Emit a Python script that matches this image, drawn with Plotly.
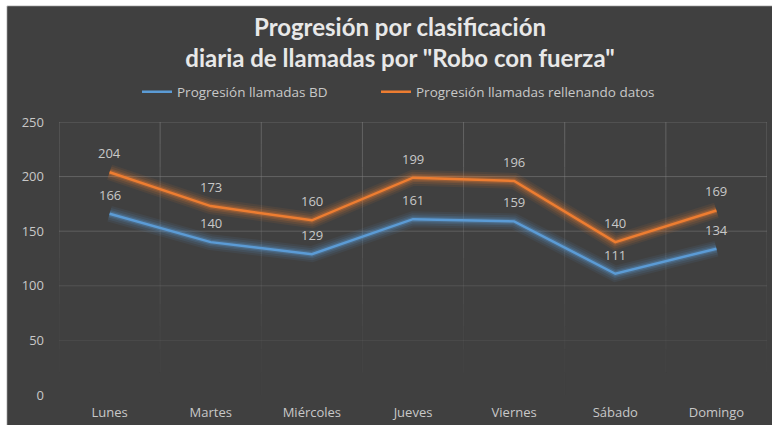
import plotly.graph_objects as go

# Day categories and call counts per classification
dias = ["Lunes", "Martes", "Miércoles", "Jueves", "Viernes", "Sábado", "Domingo"]
llamadas_bd = [166, 140, 129, 161, 159, 111, 134]
llamadas_rellenando = [204, 173, 160, 199, 196, 140, 169]
y_ticks = [0, 50, 100, 150, 200, 250]

AZUL = "#5B9BD5"
NARANJA = "#ED7D31"
TEXTO = "#c8c8c8"
FONDO = "#404040"

W, H = 772, 425
ML, MR, MT, MB = 59, 5, 122, 30
PW, PH = W - ML - MR, H - MT - MB


def px_x(px):
    return (px - ML) / PW


def px_y(py):
    return (H - MB - py) / PH


fig = go.Figure()

# soft glow underneath each series
for serie, color in ((llamadas_bd, AZUL), (llamadas_rellenando, NARANJA)):
    for width, op in ((16, 0.08), (12, 0.11), (8, 0.17), (5, 0.26)):
        fig.add_trace(go.Scatter(
            x=dias, y=serie, mode="lines",
            line=dict(color=color, width=width, shape="linear"),
            opacity=op, showlegend=False, hoverinfo="skip",
        ))

fig.add_trace(go.Scatter(
    x=dias, y=llamadas_bd, mode="lines", name="Progresión llamadas BD",
    line=dict(color=AZUL, width=2.5), legend="legend",
))
fig.add_trace(go.Scatter(
    x=dias, y=llamadas_rellenando, mode="lines",
    name="Progresión llamadas rellenando datos",
    line=dict(color=NARANJA, width=2.5), legend="legend2",
))

# value labels above each point
annotations = []
for serie in (llamadas_bd, llamadas_rellenando):
    for d, v in zip(dias, serie):
        annotations.append(dict(
            x=d, y=v, xref="x", yref="y", text=str(v), showarrow=False,
            yshift=19, font=dict(family="Open Sans", size=13, color=TEXTO),
        ))

shapes = []
# dark chart area with a thin light edge on the left and top
shapes.append(dict(type="rect", xref="paper", yref="paper",
                   x0=px_x(-5), x1=px_x(W + 5), y0=px_y(H + 5), y1=px_y(-5),
                   fillcolor="white", line=dict(width=0), layer="below"))
shapes.append(dict(type="rect", xref="paper", yref="paper",
                   x0=px_x(7), x1=px_x(W + 5), y0=px_y(H + 5), y1=px_y(6),
                   fillcolor=FONDO, line=dict(color="#bdbdbd", width=1), layer="below"))
shapes.append(dict(type="rect", xref="paper", yref="paper",
                   x0=px_x(7.5), x1=px_x(W + 5), y0=px_y(H + 5), y1=px_y(6.5),
                   fillcolor=FONDO, line=dict(width=0), layer="below"))

# horizontal gridlines fading toward the bottom
grid_alpha = {250: 0.55, 200: 0.55, 150: 0.45, 100: 0.30, 50: 0.18, 0: 0.0}
for v in y_ticks:
    a = grid_alpha[v]
    if a <= 0:
        continue
    shapes.append(dict(type="line", xref="paper", yref="y", x0=0, x1=1, y0=v, y1=v,
                       line=dict(color=f"rgba(130,130,130,{a})", width=1), layer="below"))

# vertical gridlines at category boundaries, fading downward
n_seg = 12
for i in range(len(dias) + 1):
    xb = i - 0.5
    for s in range(n_seg):
        y1 = 250 - s * 250 / n_seg
        y0 = 250 - (s + 1) * 250 / n_seg
        a = 0.55 * (1 - s / n_seg) ** 1.3
        shapes.append(dict(type="line", xref="x", yref="y", x0=xb, x1=xb, y0=y0, y1=y1,
                           line=dict(color=f"rgba(130,130,130,{a:.3f})", width=1),
                           layer="below"))

legend_style = dict(
    orientation="h", xanchor="left", y=px_y(92), yanchor="middle",
    font=dict(family="Open Sans", size=13.5, color=TEXTO),
    bgcolor="rgba(0,0,0,0)", itemwidth=30, tracegroupgap=0,
)

fig.update_layout(
    width=W, height=H,
    margin=dict(l=ML, r=MR, t=MT, b=MB, pad=0),
    paper_bgcolor="white", plot_bgcolor="rgba(0,0,0,0)",
    shapes=shapes,
    annotations=annotations,
    title=dict(
        text="Progresión por clasificación<br>diaria de llamadas por \"Robo con fuerza\"",
        x=400 / W, xanchor="center",
        y=1 - 36 / H, yanchor="middle",
        font=dict(family="Lato", size=24, color="#e8e8e8", weight="bold"),
    ),
    legend=dict(x=px_x(137), **legend_style),
    legend2=dict(x=px_x(376), **legend_style),
    xaxis=dict(
        type="category", range=[-0.5, 6.5], showgrid=False, zeroline=False,
        showline=False, ticks="", tickfont=dict(family="Open Sans", size=13, color=TEXTO),
        ticklabelstandoff=8,
    ),
    yaxis=dict(
        range=[0, 250], tickvals=y_ticks, showgrid=False, zeroline=False,
        showline=False, ticks="", tickfont=dict(family="Open Sans", size=13, color=TEXTO),
        ticklabelstandoff=14,
    ),
    showlegend=True,
)

fig.write_html("out.html")
